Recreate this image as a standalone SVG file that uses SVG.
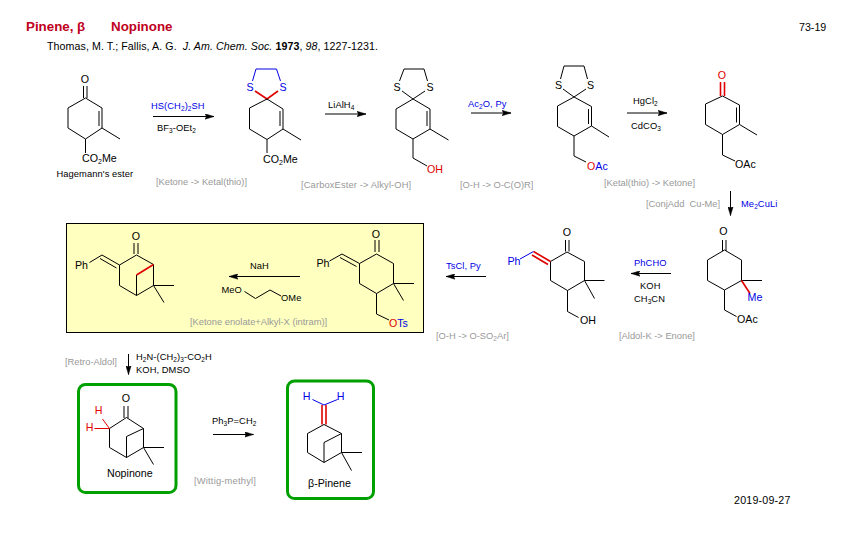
<svg xmlns="http://www.w3.org/2000/svg" width="854" height="533" viewBox="0 0 854 533">
<style>
text{font-family:"Liberation Sans",Arial,sans-serif;font-size:10.67px;fill:#000;white-space:pre}
.m{text-anchor:middle}
.r9{font-size:9.33px;letter-spacing:.08px}
.g{font-size:9.33px;fill:#999}
.gw{letter-spacing:.13px}
.gx{letter-spacing:.2px}
.blue{fill:#0000e6}
.red{fill:#e00000}
.s{font-size:7px}
.s6{font-size:6.5px}
.t{font-size:13.33px;font-weight:bold;fill:#c00020}
.c{letter-spacing:.07px}
.d{letter-spacing:.2px}
path{fill:none;stroke:#000;stroke-width:1}
.rb{stroke:#e00000;stroke-width:1.6}
.rbt{stroke:#e00000;stroke-width:1}
.bb{stroke:#0000e6}
.box{fill:#ffffc0;stroke:#000;stroke-width:1}
.gb{fill:#fff;stroke:#00a000;stroke-width:3}
.ar{marker-end:url(#h)}
</style>
<defs>
<marker id="h" markerUnits="userSpaceOnUse" markerWidth="10" markerHeight="6" refX="9" refY="3" orient="auto">
<path d="M0,0.3L9,3L0,5.7L1.5,3Z" style="fill:#000;stroke:#000;stroke-width:.5"/>
</marker>
</defs>
<rect width="854" height="533" fill="#fff"/>

<g id="header">
<text class="t" x="26" y="31">Pinene, β</text>
<text class="t" x="111" y="31">Nopinone</text>
<text x="799" y="31">73-19</text>
<text class="c" x="47" y="50">Thomas, M. T.; Fallis, A. G.  <tspan font-style="italic">J. Am. Chem. Soc.</tspan> <tspan font-weight="bold">1973</tspan>, <tspan font-style="italic">98</tspan>, 1227-1231.</text>
<text class="d" x="734" y="504">2019-09-27</text>
</g>

<g id="yellow-box"><rect class="box" x="66.5" y="223.5" width="357" height="109"/></g>

<g id="connectors">
<path class="ar" d="M153,116.5H214"/>
<path class="ar" d="M325,114H366"/>
<path class="ar" d="M471,113H511"/>
<path class="ar" d="M627,113H667"/>
<path class="ar" d="M730.5,191V215.5"/>
<path class="ar" d="M671,273.5H631"/>
<path class="ar" d="M486,276.5H446"/>
<path class="ar" d="M300,276.5H229"/>
<path class="ar" d="M128.5,354V374.5"/>
<path class="ar" d="M213,434.5H253.5"/>
</g>

<g id="reagents">
<text class="r9 blue" x="151" y="109">HS(CH<tspan class="s6" dy="2">2</tspan><tspan dy="-2">)</tspan><tspan class="s6" dy="2">2</tspan><tspan dy="-2">SH</tspan></text>
<text class="r9" x="157" y="131">BF<tspan class="s6" dy="2">3</tspan><tspan dy="-2">-OEt</tspan><tspan class="s6" dy="2">2</tspan></text>
<text class="g" x="156" y="185">[Ketone -&gt; Ketal(thio)]</text>
<text class="r9" x="328" y="108">LiAlH<tspan class="s6" dy="2">4</tspan></text>
<text class="g gw" x="301" y="188">[CarboxEster -&gt; Alkyl-OH]</text>
<text class="r9 blue" x="468" y="107">Ac<tspan class="s6" dy="2">2</tspan><tspan dy="-2">O, Py</tspan></text>
<text class="g" x="460" y="188">[O-H -&gt; O-C(O)R]</text>
<text class="r9" x="633" y="104">HgCl<tspan class="s6" dy="2">2</tspan></text>
<text class="r9" x="631" y="129">CdCO<tspan class="s6" dy="2">3</tspan></text>
<text class="g" x="604" y="186">[Ketal(thio) -&gt; Ketone]</text>
<text class="r9 blue" x="741" y="207">Me<tspan class="s6" dy="2">2</tspan><tspan dy="-2">CuLi</tspan></text>
<text class="g" x="646" y="207">[ConjAdd  Cu-Me]</text>
<text class="r9 blue" x="634" y="266">PhCHO</text>
<text class="r9" x="640" y="288.5">KOH</text>
<text class="r9" x="634" y="301.5">CH<tspan class="s6" dy="2">3</tspan><tspan dy="-2">CN</tspan></text>
<text class="g" x="619" y="339">[Aldol-K -&gt; Enone]</text>
<text class="r9 blue" x="446" y="268.5">TsCl, Py</text>
<text class="g" x="436" y="339">[O-H -&gt; O-SO<tspan class="s6" dy="2">2</tspan><tspan dy="-2">Ar]</tspan></text>
<text class="r9" x="250" y="269">NaH</text>
<text class="r9" x="221.5" y="292.5">MeO</text>
<path d="M244.5,291.5L255.5,298.5L270,290L281,296"/>
<text class="r9" x="281" y="301">OMe</text>
<text class="g" x="190" y="325">[Ketone enolate+Alkyl-X (intram)]</text>
<text class="g" x="65" y="365">[Retro-Aldol]</text>
<text class="r9" x="136" y="360">H<tspan class="s6" dy="2">2</tspan><tspan dy="-2">N-(CH</tspan><tspan class="s6" dy="2">2</tspan><tspan dy="-2">)</tspan><tspan class="s6" dy="2">3</tspan><tspan dy="-2">-CO</tspan><tspan class="s6" dy="2">2</tspan><tspan dy="-2">H</tspan></text>
<text class="r9" x="136" y="372.5">KOH, DMSO</text>
<text class="r9" x="212" y="424">Ph<tspan class="s6" dy="2">3</tspan><tspan dy="-2">P=CH</tspan><tspan class="s6" dy="2">2</tspan></text>
<text class="g gx" x="194" y="484">[Wittig-methyl]</text>
</g>

<g id="hagemann-ester">
<text class="m" x="85" y="83">O</text>
<path d="M83.5,86V98M87,86V98"/>
<path d="M85.5,98L102,108V128L85.5,139L68,128V108ZM99,111V126M102,128L120,139M85.5,139V153"/>
<text x="82" y="162">CO<tspan class="s" dy="2">2</tspan><tspan dy="-2">Me</tspan></text>
<text class="r9" x="56.5" y="177">Hagemann's ester</text>
</g>

<g id="thioketal-ester">
<text class="m blue" x="250" y="91">S</text>
<text class="m blue" x="283" y="91">S</text>
<path class="bb" d="M252.5,81L256,69H276.5L280.5,81"/>
<path class="rb" d="M255,91L267,99L278,91"/>
<path d="M267,99L283,109V129L267,139.5L249.5,129V108ZM280,111V126M283,129L301,140M267,139.5V153"/>
<text x="263" y="163">CO<tspan class="s" dy="2">2</tspan><tspan dy="-2">Me</tspan></text>
</g>

<g id="thioketal-alcohol">
<text class="m" x="397" y="91">S</text>
<text class="m" x="430" y="91">S</text>
<path d="M399.5,81L404,69H424L427.5,81M402,91L413,99L425,91"/>
<path d="M413,99L430,109V129L413,139L396,129V109ZM427,111V126M430,129L448.5,140M413,139V158L427,166"/>
<text class="red" x="427" y="173">OH</text>
</g>

<g id="thioketal-acetate">
<text class="m" x="558.5" y="89">S</text>
<text class="m" x="590.5" y="89">S</text>
<path d="M560.5,79L564,66H584L587.5,79M563,89L574,97L586,89"/>
<path d="M574,97L591.5,106.5V126L574,136L557.5,126.5V106ZM588.5,109V124M591.5,126L609,137M574,136V156L586,162"/>
<text x="587" y="170"><tspan class="red">O</tspan><tspan class="blue">Ac</tspan></text>
</g>

<g id="enone-acetate">
<text class="m red" x="722" y="79">O</text>
<path class="rb" d="M720.5,82V96M724.5,82V96"/>
<path d="M722.5,96L739.5,105V124.5L722.5,134.5L705.5,124.5V104ZM736.5,107.5V122.5M739.5,124.5L757,135M722.5,134.5V155L735,161"/>
<text x="735" y="168">OAc</text>
</g>

<g id="methyl-ketone">
<text class="m" x="723.5" y="235">O</text>
<path d="M722.5,240V251M726,240V251"/>
<path d="M724.5,250L741.5,260V280.5L724.5,290L707.5,280.5V260ZM741.5,280.5H762M724.5,290V310L736.5,316.5"/>
<path class="rb" d="M741.5,280.5L750,293.5"/>
<text class="blue" x="747.5" y="301">Me</text>
<text x="737" y="323">OAc</text>
</g>

<g id="benzylidene-alcohol">
<text class="m" x="567" y="236">O</text>
<path d="M565.5,240V251.5M569,240V251.5"/>
<path d="M567,252L584.5,261.5V280.5L567.5,290.5L550.5,280.5V261.5ZM584.5,280.5H604.5M584.5,280.5L594.5,298.5M567.5,290.5V311.5L578.5,317.5"/>
<path class="rb" d="M533.5,251.5L550.5,261.5M532,255L548,264.5"/>
<path class="bb" d="M533.5,251.5L520,259"/>
<text class="blue" x="507.5" y="265">Ph</text>
<text x="580" y="324">OH</text>
</g>

<g id="tosylate">
<text class="m" x="376" y="238">O</text>
<path d="M375,240V252M379,240V252"/>
<path d="M376.5,254L393.5,263.5V283.5L376.5,293.5L359.5,283.5V263.5ZM393.5,283.5H414M393.5,283.5L403.5,300.5M376.5,293.5V314L389,320"/>
<path d="M342,254L359.5,263.5M340,257.5L356.5,266.5M342,254L329.5,261"/>
<text x="316.5" y="266.5">Ph</text>
<text x="389" y="327"><tspan class="red">O</tspan><tspan class="blue">Ts</tspan></text>
</g>

<g id="benzylidene-nopinone">
<text class="m" x="136" y="240">O</text>
<path d="M134,243V254M138,243V254"/>
<path d="M136.5,255L153.5,264.5V285.5L136.5,295.5L119.5,285.5V265ZM153.5,285.5H174M153.5,285.5L164,302.5M136.5,295.5V275"/>
<path class="rb" d="M136.5,275L153.5,264.5"/>
<path d="M102,255L119.5,265M100,258.5L116.5,268M102,255L89.5,262.5"/>
<text x="75" y="268.5">Ph</text>
</g>

<g id="nopinone">
<rect class="gb" x="78.5" y="384.5" width="97.5" height="108" rx="7"/>
<text class="m" x="126" y="402">O</text>
<path d="M124,406V418M128,406V418"/>
<path d="M126.5,417.5L143.5,428.5V447.5L126.5,457.5L109.5,447.5V428.5ZM143.5,447.5H164M143.5,447.5L153.5,464.5M126.5,457.5V436.5L143.5,428.5"/>
<path class="rbt" d="M109.5,428.5L102.5,419M109.5,428.5H94.5"/>
<text class="m red" x="98.5" y="414">H</text>
<text class="m red" x="89.5" y="431">H</text>
<text x="107" y="476.5">Nopinone</text>
</g>

<g id="beta-pinene">
<rect class="gb" x="287.5" y="381" width="86" height="117.5" rx="7"/>
<text class="m blue" x="306.5" y="400">H</text>
<text class="m blue" x="340.5" y="400">H</text>
<path class="bb" d="M312.5,399.5L324,405L337.5,399.5"/>
<path class="rb" d="M322,405V424.5M326,405V424.5"/>
<path d="M324,424.5L341.5,433.5V452.5L324,462.5L307.5,452.5V433.5ZM341.5,452.5H362M341.5,452.5L351.5,470.5M324,462.5V442.5L341.5,433.5"/>
<text x="308" y="486.5">β-Pinene</text>
</g>
</svg>
